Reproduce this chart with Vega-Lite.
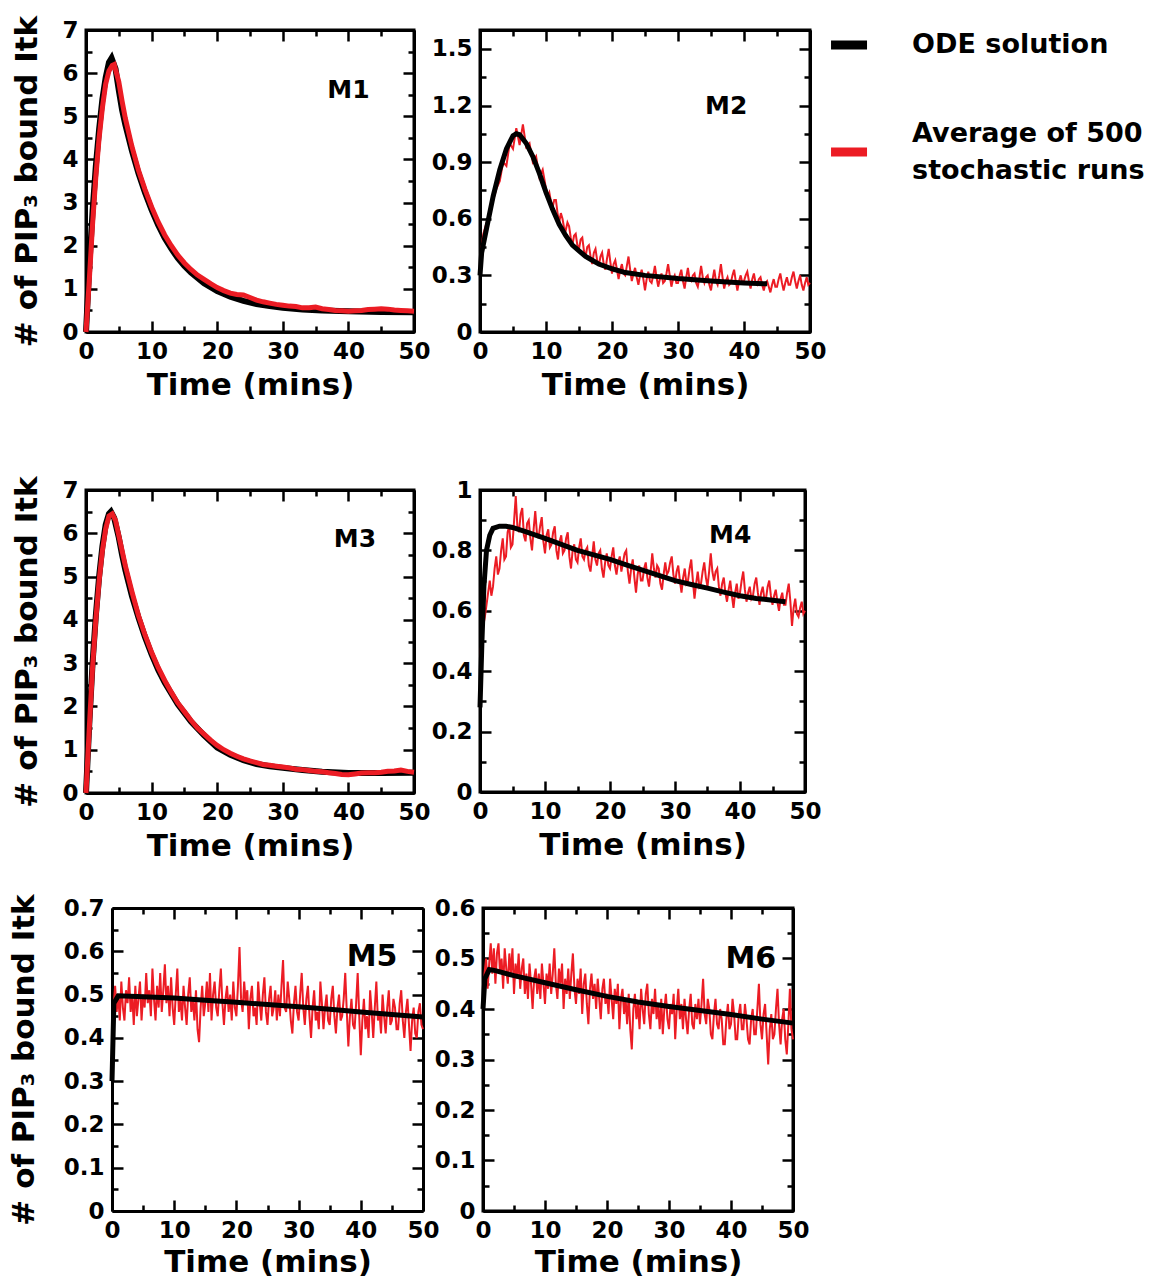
{
  "$schema": "https://vega.github.io/schema/vega-lite/v6.json",
  "padding": {"left": 8, "top": 13, "right": 0, "bottom": 0},
  "config": {
    "view": {"stroke": "black", "strokeWidth": 3},
    "font": "DejaVu Sans",
    "legend": {"disable": true},
    "axis": {"domainColor": "black", "domainWidth": 3, "tickColor": "black", "tickWidth": 2.5, "labelFont": "DejaVu Sans", "labelFontWeight": "bold", "labelFontSize": 23, "labelColor": "black", "titleFont": "DejaVu Sans", "titleFontWeight": "bold", "titleFontSize": 31, "titleColor": "black", "grid": false, "labelFlush": false, "labelOverlap": false, "labelPadding": 19, "format": "~g"}
  },
  "datasets": {
    "m1_ode": [{"t":0,"v":0},{"t":0.5,"v":1.5},{"t":1,"v":2.8},{"t":1.5,"v":3.85},{"t":2,"v":4.7},{"t":2.5,"v":5.4},{"t":3,"v":5.9},{"t":3.5,"v":6.25},{"t":3.9,"v":6.35},{"t":4.5,"v":6.1},{"t":5,"v":5.6},{"t":5.5,"v":5.15},{"t":6,"v":4.8},{"t":7,"v":4.2},{"t":8,"v":3.68},{"t":9,"v":3.23},{"t":10,"v":2.83},{"t":11,"v":2.48},{"t":12,"v":2.18},{"t":13,"v":1.93},{"t":14,"v":1.71},{"t":15,"v":1.53},{"t":16,"v":1.38},{"t":18,"v":1.13},{"t":20,"v":0.95},{"t":22,"v":0.82},{"t":24,"v":0.72},{"t":26,"v":0.65},{"t":28,"v":0.6},{"t":30,"v":0.56},{"t":33,"v":0.52},{"t":36,"v":0.5},{"t":40,"v":0.48},{"t":45,"v":0.465},{"t":50,"v":0.46}],
    "m1_avg": [{"t":0,"v":0},{"t":0.5,"v":1.2},{"t":1,"v":2.5},{"t":1.5,"v":3.6},{"t":2,"v":4.5},{"t":2.5,"v":5.2},{"t":3,"v":5.75},{"t":3.5,"v":6.05},{"t":4,"v":6.18},{"t":4.3,"v":6.2},{"t":5,"v":5.8},{"t":5.5,"v":5.35},{"t":6,"v":4.95},{"t":7,"v":4.3},{"t":8,"v":3.75},{"t":9,"v":3.3},{"t":10,"v":2.9},{"t":11,"v":2.55},{"t":12,"v":2.25},{"t":13,"v":2.0},{"t":14,"v":1.78},{"t":15,"v":1.6},{"t":16,"v":1.45},{"t":17,"v":1.32},{"t":18,"v":1.22},{"t":19,"v":1.12},{"t":20,"v":1.03},{"t":21,"v":0.96},{"t":22,"v":0.9},{"t":23,"v":0.87},{"t":24,"v":0.86},{"t":25,"v":0.8},{"t":26,"v":0.74},{"t":27,"v":0.7},{"t":28,"v":0.67},{"t":29,"v":0.64},{"t":30,"v":0.62},{"t":31,"v":0.6},{"t":32,"v":0.59},{"t":33,"v":0.56},{"t":34,"v":0.56},{"t":35,"v":0.58},{"t":36,"v":0.54},{"t":37,"v":0.52},{"t":38,"v":0.5},{"t":39,"v":0.49},{"t":40,"v":0.48},{"t":41,"v":0.49},{"t":42,"v":0.5},{"t":43,"v":0.52},{"t":44,"v":0.53},{"t":45,"v":0.54},{"t":46,"v":0.53},{"t":47,"v":0.51},{"t":48,"v":0.5},{"t":49,"v":0.49},{"t":50,"v":0.48}],
    "m2_ode": [{"t":0,"v":0.3},{"t":0.25,"v":0.42},{"t":1,"v":0.55},{"t":2,"v":0.72},{"t":3,"v":0.86},{"t":4,"v":0.97},{"t":5,"v":1.04},{"t":5.5,"v":1.05},{"t":6,"v":1.045},{"t":7,"v":1.0},{"t":8,"v":0.93},{"t":9,"v":0.84},{"t":10,"v":0.74},{"t":11,"v":0.65},{"t":12,"v":0.57},{"t":13,"v":0.51},{"t":14,"v":0.46},{"t":15,"v":0.43},{"t":16,"v":0.4},{"t":17,"v":0.38},{"t":18,"v":0.36},{"t":20,"v":0.335},{"t":22,"v":0.315},{"t":25,"v":0.3},{"t":30,"v":0.283},{"t":35,"v":0.27},{"t":40,"v":0.26},{"t":43.5,"v":0.255}],
    "m2_avg": [{"t":0,"v":0.38},{"t":0.5,"v":0.52},{"t":1,"v":0.58},{"t":1.5,"v":0.62},{"t":2,"v":0.7},{"t":2.5,"v":0.76},{"t":3,"v":0.8},{"t":3.5,"v":0.9},{"t":4,"v":0.88},{"t":4.5,"v":1.0},{"t":5,"v":0.97},{"t":5.5,"v":1.08},{"t":6,"v":0.99},{"t":6.5,"v":1.1},{"t":7,"v":0.98},{"t":7.5,"v":1.0},{"t":8,"v":0.9},{"t":8.5,"v":0.93},{"t":9,"v":0.82},{"t":9.5,"v":0.86},
      {"t":10,"v":0.76},{"t":10.25,"v":0.72},{"t":10.5,"v":0.74},{"t":10.75,"v":0.69},{"t":11,"v":0.66},{"t":11.25,"v":0.7},{"t":11.5,"v":0.7},{"t":11.75,"v":0.63},{"t":12,"v":0.58},{"t":12.25,"v":0.63},{"t":12.5,"v":0.6},{"t":12.75,"v":0.55},{"t":13,"v":0.54},{"t":13.25,"v":0.58},{"t":13.5,"v":0.56},{"t":13.75,"v":0.5},{"t":14,"v":0.46},{"t":14.25,"v":0.51},{"t":14.5,"v":0.52},{"t":14.75,"v":0.46},{"t":15,"v":0.44},{"t":15.25,"v":0.49},{"t":15.5,"v":0.5},{"t":15.75,"v":0.43},{"t":16,"v":0.4},{"t":16.25,"v":0.45},{"t":16.5,"v":0.46},{"t":16.75,"v":0.4},{"t":17,"v":0.36},{"t":17.25,"v":0.42},{"t":17.5,"v":0.44},{"t":17.75,"v":0.38},{"t":18,"v":0.35},{"t":18.25,"v":0.4},{"t":18.5,"v":0.42},{"t":18.75,"v":0.36},{"t":19,"v":0.33},{"t":19.25,"v":0.39},{"t":19.5,"v":0.44},{"t":19.75,"v":0.37},{"t":20,"v":0.31},{"t":20.25,"v":0.36},{"t":20.5,"v":0.38},{"t":20.75,"v":0.33},{"t":21,"v":0.28},{"t":21.25,"v":0.33},{"t":21.5,"v":0.36},{"t":21.75,"v":0.31},{"t":22,"v":0.3},{"t":22.25,"v":0.35},{"t":22.5,"v":0.4},{"t":22.75,"v":0.33},{"t":23,"v":0.27},{"t":23.25,"v":0.31},{"t":23.5,"v":0.34},{"t":23.75,"v":0.29},{"t":24,"v":0.25},{"t":24.25,"v":0.3},{"t":24.5,"v":0.33},{"t":24.75,"v":0.28},{"t":25,"v":0.22},{"t":25.25,"v":0.28},{"t":25.5,"v":0.32},{"t":25.75,"v":0.27},{"t":26,"v":0.26},{"t":26.25,"v":0.3},{"t":26.5,"v":0.35},{"t":26.75,"v":0.29},{"t":27,"v":0.24},{"t":27.25,"v":0.28},{"t":27.5,"v":0.31},{"t":27.75,"v":0.26},{"t":28,"v":0.27},{"t":28.25,"v":0.31},{"t":28.5,"v":0.36},{"t":28.75,"v":0.3},{"t":29,"v":0.24},{"t":29.25,"v":0.28},{"t":29.5,"v":0.3},{"t":29.75,"v":0.26},{"t":30,"v":0.26},{"t":30.25,"v":0.3},{"t":30.5,"v":0.33},{"t":30.75,"v":0.27},{"t":31,"v":0.23},{"t":31.25,"v":0.29},{"t":31.5,"v":0.34},{"t":31.75,"v":0.28},{"t":32,"v":0.27},{"t":32.25,"v":0.3},{"t":32.5,"v":0.31},{"t":32.75,"v":0.26},{"t":33,"v":0.24},{"t":33.25,"v":0.29},{"t":33.5,"v":0.35},{"t":33.75,"v":0.29},{"t":34,"v":0.26},{"t":34.25,"v":0.29},{"t":34.5,"v":0.3},{"t":34.75,"v":0.25},{"t":35,"v":0.22},{"t":35.25,"v":0.28},{"t":35.5,"v":0.33},{"t":35.75,"v":0.27},{"t":36,"v":0.25},{"t":36.25,"v":0.3},{"t":36.5,"v":0.36},{"t":36.75,"v":0.29},{"t":37,"v":0.23},{"t":37.25,"v":0.27},{"t":37.5,"v":0.29},{"t":37.75,"v":0.25},{"t":38,"v":0.26},{"t":38.25,"v":0.3},{"t":38.5,"v":0.33},{"t":38.75,"v":0.27},{"t":39,"v":0.22},{"t":39.25,"v":0.27},{"t":39.5,"v":0.3},{"t":39.75,"v":0.26},{"t":40,"v":0.27},{"t":40.25,"v":0.3},{"t":40.5,"v":0.32},{"t":40.75,"v":0.27},{"t":41,"v":0.23},{"t":41.25,"v":0.28},{"t":41.5,"v":0.31},{"t":41.75,"v":0.26},{"t":42,"v":0.25},{"t":42.25,"v":0.28},{"t":42.5,"v":0.29},{"t":42.75,"v":0.25},{"t":43,"v":0.22},{"t":43.25,"v":0.26},{"t":43.5,"v":0.27},{"t":43.75,"v":0.24},{"t":44,"v":0.21},{"t":44.25,"v":0.25},{"t":44.5,"v":0.28},{"t":44.75,"v":0.24},{"t":45,"v":0.24},{"t":45.25,"v":0.28},{"t":45.5,"v":0.31},{"t":45.75,"v":0.26},{"t":46,"v":0.22},{"t":46.25,"v":0.26},{"t":46.5,"v":0.29},{"t":46.75,"v":0.25},{"t":47,"v":0.25},{"t":47.25,"v":0.29},{"t":47.5,"v":0.32},{"t":47.75,"v":0.27},{"t":48,"v":0.23},{"t":48.25,"v":0.27},{"t":48.5,"v":0.3},{"t":48.75,"v":0.25},{"t":49,"v":0.22},{"t":49.25,"v":0.26},{"t":49.5,"v":0.29},{"t":49.75,"v":0.25},{"t":50,"v":0.26}],
    "m3_ode": [{"t":0,"v":0},{"t":0.5,"v":1.6},{"t":1,"v":3.0},{"t":1.5,"v":4.1},{"t":2,"v":5.0},{"t":2.5,"v":5.7},{"t":3,"v":6.2},{"t":3.5,"v":6.45},{"t":3.8,"v":6.5},{"t":4.3,"v":6.35},{"t":5,"v":5.9},{"t":5.5,"v":5.5},{"t":6,"v":5.15},{"t":6.5,"v":4.85},{"t":7,"v":4.55},{"t":8,"v":4.05},{"t":9,"v":3.6},{"t":10,"v":3.2},{"t":11,"v":2.85},{"t":12,"v":2.55},{"t":13,"v":2.3},{"t":14,"v":2.05},{"t":15,"v":1.85},{"t":16,"v":1.65},{"t":18,"v":1.33},{"t":20,"v":1.05},{"t":22,"v":0.88},{"t":24,"v":0.76},{"t":26,"v":0.67},{"t":28,"v":0.62},{"t":30,"v":0.58},{"t":33,"v":0.53},{"t":36,"v":0.49},{"t":40,"v":0.46},{"t":45,"v":0.46},{"t":50,"v":0.47}],
    "m3_avg": [{"t":0,"v":0},{"t":0.5,"v":1.5},{"t":1,"v":2.9},{"t":1.5,"v":4.0},{"t":2,"v":4.9},{"t":2.5,"v":5.6},{"t":3,"v":6.1},{"t":3.5,"v":6.4},{"t":4,"v":6.45},{"t":4.5,"v":6.3},{"t":5,"v":5.95},{"t":5.5,"v":5.6},{"t":6,"v":5.25},{"t":7,"v":4.65},{"t":8,"v":4.1},{"t":9,"v":3.65},{"t":10,"v":3.25},{"t":11,"v":2.9},{"t":12,"v":2.6},{"t":13,"v":2.33},{"t":14,"v":2.08},{"t":15,"v":1.88},{"t":16,"v":1.68},{"t":17,"v":1.5},{"t":18,"v":1.36},{"t":19,"v":1.22},{"t":20,"v":1.1},{"t":21,"v":1.0},{"t":22,"v":0.92},{"t":23,"v":0.85},{"t":24,"v":0.79},{"t":25,"v":0.74},{"t":26,"v":0.7},{"t":27,"v":0.66},{"t":28,"v":0.64},{"t":29,"v":0.62},{"t":30,"v":0.6},{"t":31,"v":0.58},{"t":32,"v":0.55},{"t":33,"v":0.54},{"t":34,"v":0.52},{"t":35,"v":0.5},{"t":36,"v":0.49},{"t":37,"v":0.47},{"t":38,"v":0.45},{"t":39,"v":0.43},{"t":40,"v":0.42},{"t":41,"v":0.44},{"t":42,"v":0.46},{"t":43,"v":0.47},{"t":44,"v":0.47},{"t":45,"v":0.48},{"t":46,"v":0.5},{"t":47,"v":0.51},{"t":48,"v":0.53},{"t":49,"v":0.5},{"t":50,"v":0.48}],
    "m4_ode": [{"t":0,"v":0.28},{"t":0.3,"v":0.5},{"t":0.6,"v":0.68},{"t":1,"v":0.8},{"t":1.5,"v":0.85},{"t":2,"v":0.873},{"t":3,"v":0.88},{"t":4,"v":0.88},{"t":5,"v":0.876},{"t":7,"v":0.862},{"t":10,"v":0.84},{"t":12.5,"v":0.82},{"t":15,"v":0.8},{"t":17.5,"v":0.785},{"t":20,"v":0.77},{"t":22.5,"v":0.752},{"t":25,"v":0.735},{"t":27.5,"v":0.717},{"t":30,"v":0.7},{"t":32.5,"v":0.687},{"t":35,"v":0.675},{"t":37.5,"v":0.662},{"t":40,"v":0.65},{"t":42.5,"v":0.641},{"t":45,"v":0.635},{"t":47,"v":0.63}],
    "m4_avg": [{"t":0,"v":0.45},{"t":0.25,"v":0.5},{"t":0.5,"v":0.55},{"t":0.75,"v":0.58},{"t":1,"v":0.62},{"t":1.25,"v":0.66},{"t":1.5,"v":0.7},{"t":1.75,"v":0.65},{"t":2,"v":0.68},{"t":2.25,"v":0.74},{"t":2.5,"v":0.78},{"t":2.75,"v":0.72},{"t":3,"v":0.74},{"t":3.25,"v":0.8},{"t":3.5,"v":0.84},{"t":3.75,"v":0.77},{"t":4,"v":0.78},{"t":4.25,"v":0.86},{"t":4.5,"v":0.88},{"t":4.75,"v":0.81},{"t":5,"v":0.82},{"t":5.25,"v":0.9},{"t":5.5,"v":0.98},{"t":5.75,"v":0.88},{"t":6,"v":0.86},{"t":6.25,"v":0.92},{"t":6.5,"v":0.94},{"t":6.75,"v":0.85},{"t":7,"v":0.83},{"t":7.25,"v":0.89},{"t":7.5,"v":0.9},{"t":7.75,"v":0.84},{"t":8,"v":0.8},{"t":8.25,"v":0.87},{"t":8.5,"v":0.93},{"t":8.75,"v":0.86},{"t":9,"v":0.84},{"t":9.25,"v":0.88},{"t":9.5,"v":0.91},{"t":9.75,"v":0.83},{"t":10,"v":0.79},{"t":10.25,"v":0.85},{"t":10.5,"v":0.87},{"t":10.75,"v":0.81},{"t":11,"v":0.82},{"t":11.25,"v":0.86},{"t":11.5,"v":0.88},{"t":11.75,"v":0.8},{"t":12,"v":0.77},{"t":12.25,"v":0.83},{"t":12.5,"v":0.85},{"t":12.75,"v":0.79},{"t":13,"v":0.8},{"t":13.25,"v":0.84},{"t":13.5,"v":0.86},{"t":13.75,"v":0.78},{"t":14,"v":0.74},{"t":14.25,"v":0.8},{"t":14.5,"v":0.82},{"t":14.75,"v":0.77},{"t":15,"v":0.76},{"t":15.25,"v":0.81},{"t":15.5,"v":0.84},{"t":15.75,"v":0.78},{"t":16,"v":0.77},{"t":16.25,"v":0.8},{"t":16.5,"v":0.81},{"t":16.75,"v":0.75},{"t":17,"v":0.73},{"t":17.25,"v":0.78},{"t":17.5,"v":0.83},{"t":17.75,"v":0.77},{"t":18,"v":0.75},{"t":18.25,"v":0.79},{"t":18.5,"v":0.8},{"t":18.75,"v":0.74},{"t":19,"v":0.71},{"t":19.25,"v":0.76},{"t":19.5,"v":0.79},{"t":19.75,"v":0.75},{"t":20,"v":0.74},{"t":20.25,"v":0.78},{"t":20.5,"v":0.81},{"t":20.75,"v":0.75},{"t":21,"v":0.72},{"t":21.25,"v":0.76},{"t":21.5,"v":0.78},{"t":21.75,"v":0.73},{"t":22,"v":0.76},{"t":22.25,"v":0.79},{"t":22.5,"v":0.8},{"t":22.75,"v":0.73},{"t":23,"v":0.69},{"t":23.25,"v":0.74},{"t":23.5,"v":0.77},{"t":23.75,"v":0.71},{"t":24,"v":0.66},{"t":24.25,"v":0.72},{"t":24.5,"v":0.75},{"t":24.75,"v":0.7},{"t":25,"v":0.7},{"t":25.25,"v":0.74},{"t":25.5,"v":0.76},{"t":25.75,"v":0.71},{"t":26,"v":0.68},{"t":26.25,"v":0.73},{"t":26.5,"v":0.79},{"t":26.75,"v":0.74},{"t":27,"v":0.71},{"t":27.25,"v":0.75},{"t":27.5,"v":0.74},{"t":27.75,"v":0.69},{"t":28,"v":0.67},{"t":28.25,"v":0.72},{"t":28.5,"v":0.76},{"t":28.75,"v":0.72},{"t":29,"v":0.73},{"t":29.25,"v":0.76},{"t":29.5,"v":0.78},{"t":29.75,"v":0.72},{"t":30,"v":0.69},{"t":30.25,"v":0.73},{"t":30.5,"v":0.75},{"t":30.75,"v":0.7},{"t":31,"v":0.66},{"t":31.25,"v":0.71},{"t":31.5,"v":0.74},{"t":31.75,"v":0.69},{"t":32,"v":0.7},{"t":32.25,"v":0.74},{"t":32.5,"v":0.77},{"t":32.75,"v":0.7},{"t":33,"v":0.64},{"t":33.25,"v":0.69},{"t":33.5,"v":0.73},{"t":33.75,"v":0.68},{"t":34,"v":0.69},{"t":34.25,"v":0.73},{"t":34.5,"v":0.76},{"t":34.75,"v":0.71},{"t":35,"v":0.68},{"t":35.25,"v":0.73},{"t":35.5,"v":0.79},{"t":35.75,"v":0.73},{"t":36,"v":0.7},{"t":36.25,"v":0.73},{"t":36.5,"v":0.74},{"t":36.75,"v":0.68},{"t":37,"v":0.65},{"t":37.25,"v":0.69},{"t":37.5,"v":0.71},{"t":37.75,"v":0.66},{"t":38,"v":0.63},{"t":38.25,"v":0.67},{"t":38.5,"v":0.7},{"t":38.75,"v":0.65},{"t":39,"v":0.61},{"t":39.25,"v":0.66},{"t":39.5,"v":0.69},{"t":39.75,"v":0.64},{"t":40,"v":0.66},{"t":40.25,"v":0.7},{"t":40.5,"v":0.73},{"t":40.75,"v":0.67},{"t":41,"v":0.63},{"t":41.25,"v":0.66},{"t":41.5,"v":0.68},{"t":41.75,"v":0.64},{"t":42,"v":0.65},{"t":42.25,"v":0.69},{"t":42.5,"v":0.71},{"t":42.75,"v":0.66},{"t":43,"v":0.62},{"t":43.25,"v":0.66},{"t":43.5,"v":0.68},{"t":43.75,"v":0.64},{"t":44,"v":0.64},{"t":44.25,"v":0.68},{"t":44.5,"v":0.7},{"t":44.75,"v":0.65},{"t":45,"v":0.62},{"t":45.25,"v":0.65},{"t":45.5,"v":0.67},{"t":45.75,"v":0.63},{"t":46,"v":0.6},{"t":46.25,"v":0.64},{"t":46.5,"v":0.66},{"t":46.75,"v":0.62},{"t":47,"v":0.62},{"t":47.25,"v":0.66},{"t":47.5,"v":0.69},{"t":47.75,"v":0.63},{"t":48,"v":0.55},{"t":48.25,"v":0.61},{"t":48.5,"v":0.64},{"t":48.75,"v":0.59},{"t":49,"v":0.58},{"t":49.25,"v":0.61},{"t":49.5,"v":0.63},{"t":49.75,"v":0.59},{"t":50,"v":0.6}],
    "m5_ode": [{"t":0,"v":0.3},{"t":0.3,"v":0.48},{"t":1,"v":0.497},{"t":5,"v":0.495},{"t":10,"v":0.492},{"t":15,"v":0.487},{"t":20,"v":0.482},{"t":25,"v":0.477},{"t":30,"v":0.472},{"t":35,"v":0.466},{"t":40,"v":0.46},{"t":45,"v":0.454},{"t":50,"v":0.448}],
    "m5_avg": [{"t":0,"v":0.4},{"t":0.25,"v":0.47},{"t":0.5,"v":0.52},{"t":0.75,"v":0.46},{"t":1,"v":0.5},{"t":1.25,"v":0.44},{"t":1.5,"v":0.53},{"t":1.75,"v":0.47},{"t":2,"v":0.44},{"t":2.25,"v":0.51},{"t":2.5,"v":0.48},{"t":2.75,"v":0.54},{"t":3,"v":0.46},{"t":3.25,"v":0.5},{"t":3.5,"v":0.43},{"t":3.75,"v":0.52},{"t":4,"v":0.45},{"t":4.25,"v":0.49},{"t":4.5,"v":0.53},{"t":4.75,"v":0.44},{"t":5,"v":0.5},{"t":5.25,"v":0.47},{"t":5.5,"v":0.55},{"t":5.75,"v":0.48},{"t":6,"v":0.51},{"t":6.25,"v":0.45},{"t":6.5,"v":0.56},{"t":6.75,"v":0.49},{"t":7,"v":0.44},{"t":7.25,"v":0.52},{"t":7.5,"v":0.47},{"t":7.75,"v":0.55},{"t":8,"v":0.46},{"t":8.25,"v":0.51},{"t":8.5,"v":0.57},{"t":8.75,"v":0.48},{"t":9,"v":0.52},{"t":9.25,"v":0.45},{"t":9.5,"v":0.54},{"t":9.75,"v":0.47},{"t":10,"v":0.43},{"t":10.25,"v":0.5},{"t":10.5,"v":0.56},{"t":10.75,"v":0.46},{"t":11,"v":0.49},{"t":11.25,"v":0.44},{"t":11.5,"v":0.52},{"t":11.75,"v":0.47},{"t":12,"v":0.43},{"t":12.25,"v":0.5},{"t":12.5,"v":0.54},{"t":12.75,"v":0.46},{"t":13,"v":0.49},{"t":13.25,"v":0.44},{"t":13.5,"v":0.51},{"t":13.75,"v":0.42},{"t":14,"v":0.39},{"t":14.25,"v":0.47},{"t":14.5,"v":0.52},{"t":14.75,"v":0.45},{"t":15,"v":0.48},{"t":15.25,"v":0.53},{"t":15.5,"v":0.46},{"t":15.75,"v":0.55},{"t":16,"v":0.44},{"t":16.25,"v":0.5},{"t":16.5,"v":0.53},{"t":16.75,"v":0.47},{"t":17,"v":0.45},{"t":17.25,"v":0.51},{"t":17.5,"v":0.56},{"t":17.75,"v":0.48},{"t":18,"v":0.43},{"t":18.25,"v":0.49},{"t":18.5,"v":0.52},{"t":18.75,"v":0.46},{"t":19,"v":0.5},{"t":19.25,"v":0.44},{"t":19.5,"v":0.53},{"t":19.75,"v":0.47},{"t":20,"v":0.45},{"t":20.25,"v":0.52},{"t":20.5,"v":0.61},{"t":20.75,"v":0.49},{"t":21,"v":0.46},{"t":21.25,"v":0.53},{"t":21.5,"v":0.48},{"t":21.75,"v":0.51},{"t":22,"v":0.42},{"t":22.25,"v":0.49},{"t":22.5,"v":0.52},{"t":22.75,"v":0.45},{"t":23,"v":0.47},{"t":23.25,"v":0.43},{"t":23.5,"v":0.53},{"t":23.75,"v":0.48},{"t":24,"v":0.44},{"t":24.25,"v":0.5},{"t":24.5,"v":0.54},{"t":24.75,"v":0.46},{"t":25,"v":0.43},{"t":25.25,"v":0.49},{"t":25.5,"v":0.52},{"t":25.75,"v":0.45},{"t":26,"v":0.47},{"t":26.25,"v":0.51},{"t":26.5,"v":0.44},{"t":26.75,"v":0.5},{"t":27,"v":0.45},{"t":27.25,"v":0.52},{"t":27.5,"v":0.58},{"t":27.75,"v":0.47},{"t":28,"v":0.46},{"t":28.25,"v":0.53},{"t":28.5,"v":0.49},{"t":28.75,"v":0.44},{"t":29,"v":0.41},{"t":29.25,"v":0.48},{"t":29.5,"v":0.52},{"t":29.75,"v":0.46},{"t":30,"v":0.44},{"t":30.25,"v":0.5},{"t":30.5,"v":0.55},{"t":30.75,"v":0.47},{"t":31,"v":0.43},{"t":31.25,"v":0.49},{"t":31.5,"v":0.52},{"t":31.75,"v":0.45},{"t":32,"v":0.4},{"t":32.25,"v":0.47},{"t":32.5,"v":0.51},{"t":32.75,"v":0.44},{"t":33,"v":0.46},{"t":33.25,"v":0.42},{"t":33.5,"v":0.53},{"t":33.75,"v":0.48},{"t":34,"v":0.42},{"t":34.25,"v":0.47},{"t":34.5,"v":0.5},{"t":34.75,"v":0.44},{"t":35,"v":0.43},{"t":35.25,"v":0.49},{"t":35.5,"v":0.52},{"t":35.75,"v":0.45},{"t":36,"v":0.41},{"t":36.25,"v":0.47},{"t":36.5,"v":0.5},{"t":36.75,"v":0.44},{"t":37,"v":0.45},{"t":37.25,"v":0.49},{"t":37.5,"v":0.55},{"t":37.75,"v":0.46},{"t":38,"v":0.38},{"t":38.25,"v":0.45},{"t":38.5,"v":0.49},{"t":38.75,"v":0.43},{"t":39,"v":0.42},{"t":39.25,"v":0.48},{"t":39.5,"v":0.55},{"t":39.75,"v":0.45},{"t":40,"v":0.36},{"t":40.25,"v":0.44},{"t":40.5,"v":0.49},{"t":40.75,"v":0.42},{"t":41,"v":0.45},{"t":41.25,"v":0.4},{"t":41.5,"v":0.51},{"t":41.75,"v":0.46},{"t":42,"v":0.4},{"t":42.25,"v":0.47},{"t":42.5,"v":0.53},{"t":42.75,"v":0.44},{"t":43,"v":0.46},{"t":43.25,"v":0.41},{"t":43.5,"v":0.5},{"t":43.75,"v":0.45},{"t":44,"v":0.41},{"t":44.25,"v":0.47},{"t":44.5,"v":0.51},{"t":44.75,"v":0.43},{"t":45,"v":0.44},{"t":45.25,"v":0.49},{"t":45.5,"v":0.47},{"t":45.75,"v":0.42},{"t":46,"v":0.42},{"t":46.25,"v":0.48},{"t":46.5,"v":0.51},{"t":46.75,"v":0.44},{"t":47,"v":0.4},{"t":47.25,"v":0.46},{"t":47.5,"v":0.49},{"t":47.75,"v":0.43},{"t":48,"v":0.37},{"t":48.25,"v":0.44},{"t":48.5,"v":0.47},{"t":48.75,"v":0.41},{"t":49,"v":0.4},{"t":49.25,"v":0.46},{"t":49.5,"v":0.48},{"t":49.75,"v":0.43},{"t":50,"v":0.42}],
    "m6_ode": [{"t":0,"v":0.4},{"t":0.3,"v":0.46},{"t":1,"v":0.478},{"t":2,"v":0.476},{"t":5,"v":0.466},{"t":10,"v":0.452},{"t":15,"v":0.438},{"t":20,"v":0.425},{"t":25,"v":0.414},{"t":30,"v":0.405},{"t":35,"v":0.397},{"t":40,"v":0.389},{"t":45,"v":0.38},{"t":50,"v":0.372}],
    "m6_avg": [{"t":0,"v":0.4},{"t":0.25,"v":0.47},{"t":0.5,"v":0.5},{"t":0.75,"v":0.44},{"t":1,"v":0.49},{"t":1.25,"v":0.53},{"t":1.5,"v":0.47},{"t":1.75,"v":0.52},{"t":2,"v":0.45},{"t":2.25,"v":0.51},{"t":2.5,"v":0.53},{"t":2.75,"v":0.47},{"t":3,"v":0.5},{"t":3.25,"v":0.44},{"t":3.5,"v":0.52},{"t":3.75,"v":0.48},{"t":4,"v":0.45},{"t":4.25,"v":0.51},{"t":4.5,"v":0.47},{"t":4.75,"v":0.52},{"t":5,"v":0.43},{"t":5.25,"v":0.49},{"t":5.5,"v":0.46},{"t":5.75,"v":0.51},{"t":6,"v":0.44},{"t":6.25,"v":0.48},{"t":6.5,"v":0.5},{"t":6.75,"v":0.43},{"t":7,"v":0.47},{"t":7.25,"v":0.42},{"t":7.5,"v":0.49},{"t":7.75,"v":0.45},{"t":8,"v":0.4},{"t":8.25,"v":0.46},{"t":8.5,"v":0.48},{"t":8.75,"v":0.43},{"t":9,"v":0.47},{"t":9.25,"v":0.42},{"t":9.5,"v":0.49},{"t":9.75,"v":0.45},{"t":10,"v":0.41},{"t":10.25,"v":0.47},{"t":10.5,"v":0.44},{"t":10.75,"v":0.49},{"t":11,"v":0.43},{"t":11.25,"v":0.47},{"t":11.5,"v":0.52},{"t":11.75,"v":0.45},{"t":12,"v":0.42},{"t":12.25,"v":0.48},{"t":12.5,"v":0.45},{"t":12.75,"v":0.49},{"t":13,"v":0.4},{"t":13.25,"v":0.46},{"t":13.5,"v":0.43},{"t":13.75,"v":0.48},{"t":14,"v":0.42},{"t":14.25,"v":0.47},{"t":14.5,"v":0.51},{"t":14.75,"v":0.44},{"t":15,"v":0.41},{"t":15.25,"v":0.46},{"t":15.5,"v":0.43},{"t":15.75,"v":0.48},{"t":16,"v":0.39},{"t":16.25,"v":0.45},{"t":16.5,"v":0.47},{"t":16.75,"v":0.41},{"t":17,"v":0.37},{"t":17.25,"v":0.44},{"t":17.5,"v":0.47},{"t":17.75,"v":0.42},{"t":18,"v":0.45},{"t":18.25,"v":0.4},{"t":18.5,"v":0.46},{"t":18.75,"v":0.42},{"t":19,"v":0.38},{"t":19.25,"v":0.44},{"t":19.5,"v":0.46},{"t":19.75,"v":0.41},{"t":20,"v":0.43},{"t":20.25,"v":0.39},{"t":20.5,"v":0.46},{"t":20.75,"v":0.42},{"t":21,"v":0.38},{"t":21.25,"v":0.44},{"t":21.5,"v":0.41},{"t":21.75,"v":0.45},{"t":22,"v":0.36},{"t":22.25,"v":0.42},{"t":22.5,"v":0.44},{"t":22.75,"v":0.39},{"t":23,"v":0.42},{"t":23.25,"v":0.37},{"t":23.5,"v":0.43},{"t":23.75,"v":0.36},{"t":24,"v":0.32},{"t":24.25,"v":0.4},{"t":24.5,"v":0.43},{"t":24.75,"v":0.38},{"t":25,"v":0.41},{"t":25.25,"v":0.36},{"t":25.5,"v":0.44},{"t":25.75,"v":0.4},{"t":26,"v":0.37},{"t":26.25,"v":0.43},{"t":26.5,"v":0.45},{"t":26.75,"v":0.39},{"t":27,"v":0.36},{"t":27.25,"v":0.42},{"t":27.5,"v":0.39},{"t":27.75,"v":0.44},{"t":28,"v":0.38},{"t":28.25,"v":0.41},{"t":28.5,"v":0.36},{"t":28.75,"v":0.42},{"t":29,"v":0.35},{"t":29.25,"v":0.4},{"t":29.5,"v":0.43},{"t":29.75,"v":0.38},{"t":30,"v":0.36},{"t":30.25,"v":0.41},{"t":30.5,"v":0.39},{"t":30.75,"v":0.43},{"t":31,"v":0.34},{"t":31.25,"v":0.4},{"t":31.5,"v":0.44},{"t":31.75,"v":0.38},{"t":32,"v":0.41},{"t":32.25,"v":0.36},{"t":32.5,"v":0.42},{"t":32.75,"v":0.38},{"t":33,"v":0.35},{"t":33.25,"v":0.4},{"t":33.5,"v":0.43},{"t":33.75,"v":0.37},{"t":34,"v":0.36},{"t":34.25,"v":0.41},{"t":34.5,"v":0.38},{"t":34.75,"v":0.42},{"t":35,"v":0.37},{"t":35.25,"v":0.41},{"t":35.5,"v":0.46},{"t":35.75,"v":0.39},{"t":36,"v":0.37},{"t":36.25,"v":0.42},{"t":36.5,"v":0.4},{"t":36.75,"v":0.35},{"t":37,"v":0.34},{"t":37.25,"v":0.39},{"t":37.5,"v":0.42},{"t":37.75,"v":0.37},{"t":38,"v":0.36},{"t":38.25,"v":0.4},{"t":38.5,"v":0.38},{"t":38.75,"v":0.33},{"t":39,"v":0.33},{"t":39.25,"v":0.38},{"t":39.5,"v":0.41},{"t":39.75,"v":0.36},{"t":40,"v":0.37},{"t":40.25,"v":0.42},{"t":40.5,"v":0.39},{"t":40.75,"v":0.34},{"t":41,"v":0.34},{"t":41.25,"v":0.39},{"t":41.5,"v":0.41},{"t":41.75,"v":0.36},{"t":42,"v":0.36},{"t":42.25,"v":0.41},{"t":42.5,"v":0.38},{"t":42.75,"v":0.34},{"t":43,"v":0.33},{"t":43.25,"v":0.38},{"t":43.5,"v":0.4},{"t":43.75,"v":0.35},{"t":44,"v":0.35},{"t":44.25,"v":0.4},{"t":44.5,"v":0.45},{"t":44.75,"v":0.37},{"t":45,"v":0.34},{"t":45.25,"v":0.39},{"t":45.5,"v":0.41},{"t":45.75,"v":0.35},{"t":46,"v":0.29},{"t":46.25,"v":0.36},{"t":46.5,"v":0.39},{"t":46.75,"v":0.34},{"t":47,"v":0.35},{"t":47.25,"v":0.4},{"t":47.5,"v":0.44},{"t":47.75,"v":0.37},{"t":48,"v":0.33},{"t":48.25,"v":0.38},{"t":48.5,"v":0.4},{"t":48.75,"v":0.34},{"t":49,"v":0.31},{"t":49.25,"v":0.37},{"t":49.5,"v":0.44},{"t":49.75,"v":0.36},{"t":50,"v":0.34}],
    "legend": [{"k":"ODE","label":"ODE solution"},{"k":"Avg","label":["Average of 500","stochastic runs"]}]
  },
  "columns": 1,
  "spacing": 30,
  "align": "none",
  "concat": [
    {
      "columns": 1,
      "spacing": 72,
      "align": "none",
      "concat": [
        {
          "spacing": -3,
          "hconcat": [
            {
              "width": 328, "height": 302,
              "resolve": {"axis": {"x": "independent", "y": "independent"}},
              "layer": [
                {"data": {"name": "m1_ode"}, "mark": {"type": "line", "strokeWidth": 6},
                 "encoding": {
                   "x": {"field": "t", "type": "quantitative", "scale": {"domain": [0, 50]}, "axis": {"orient": "bottom", "title": "Time (mins)", "titlePadding": 2, "values": [0,5,10,15,20,25,30,35,40,45,50], "tickSize": {"condition": {"test": "datum.value % 10 == 0", "value": -11}, "value": -6}, "labelExpr": "datum.value % 10 == 0 ? datum.label : ''"}},
                   "y": {"field": "v", "type": "quantitative", "scale": {"domain": [0, 7]}, "axis": {"orient": "left", "title": "# of PIP₃ bound Itk", "titlePadding": 18, "values": [0,0.5,1,1.5,2,2.5,3,3.5,4,4.5,5,5.5,6,6.5,7], "tickSize": {"condition": {"test": "datum.value % 1 == 0", "value": -11}, "value": -6}, "labelExpr": "datum.value % 1 == 0 ? datum.label : ''"}},
                   "color": {"datum": "ODE", "scale": {"domain": ["ODE", "Avg"], "range": ["#000000", "#ec1c24"]}}
                 }},
                {"data": {"name": "m1_avg"}, "mark": {"type": "line", "strokeWidth": 5},
                 "encoding": {
                   "x": {"field": "t", "type": "quantitative", "scale": {"domain": [0, 50]}, "axis": {"orient": "top", "title": null, "labels": false, "values": [0,5,10,15,20,25,30,35,40,45,50], "tickSize": {"condition": {"test": "datum.value % 10 == 0", "value": -11}, "value": -6}}},
                   "y": {"field": "v", "type": "quantitative", "scale": {"domain": [0, 7]}, "axis": {"orient": "right", "title": null, "labels": false, "values": [0,0.5,1,1.5,2,2.5,3,3.5,4,4.5,5,5.5,6,6.5,7], "tickSize": {"condition": {"test": "datum.value % 1 == 0", "value": -11}, "value": -6}}},
                   "color": {"datum": "Avg"}
                 }},
                {"data": {"values": [{}]}, "mark": {"type": "text", "fontSize": 25, "fontWeight": "bold", "color": "black", "font": "DejaVu Sans"},
                 "encoding": {"x": {"datum": 40, "type": "quantitative", "axis": null}, "y": {"datum": 5.6, "type": "quantitative", "axis": null}, "text": {"value": "M1"}}}
              ]
            },
            {
              "width": 330, "height": 302,
              "resolve": {"axis": {"x": "independent", "y": "independent"}},
              "layer": [
                {"data": {"name": "m2_avg"}, "mark": {"type": "line", "strokeWidth": 2},
                 "encoding": {
                   "x": {"field": "t", "type": "quantitative", "scale": {"domain": [0, 50]}, "axis": {"orient": "bottom", "title": "Time (mins)", "titlePadding": 2, "values": [0,5,10,15,20,25,30,35,40,45,50], "tickSize": {"condition": {"test": "datum.value % 10 == 0", "value": -11}, "value": -6}, "labelExpr": "datum.value % 10 == 0 ? datum.label : ''"}},
                   "y": {"field": "v", "type": "quantitative", "scale": {"domain": [0, 1.5]}, "axis": {"orient": "left", "title": null, "values": [0,0.15,0.3,0.45,0.6,0.75,0.9,1.05,1.2,1.35,1.5], "tickSize": {"condition": {"test": "abs(datum.value/0.3 - round(datum.value/0.3)) < 0.01", "value": -11}, "value": -6}, "labelExpr": "abs(datum.value/0.3 - round(datum.value/0.3)) < 0.01 ? datum.label : ''"}},
                   "color": {"datum": "Avg", "scale": {"domain": ["ODE", "Avg"], "range": ["#000000", "#ec1c24"]}}
                 }},
                {"data": {"name": "m2_ode"}, "mark": {"type": "line", "strokeWidth": 5},
                 "encoding": {
                   "x": {"field": "t", "type": "quantitative", "scale": {"domain": [0, 50]}, "axis": {"orient": "top", "title": null, "labels": false, "values": [0,5,10,15,20,25,30,35,40,45,50], "tickSize": {"condition": {"test": "datum.value % 10 == 0", "value": -11}, "value": -6}}},
                   "y": {"field": "v", "type": "quantitative", "scale": {"domain": [0, 1.5]}, "axis": {"orient": "right", "title": null, "labels": false, "values": [0,0.15,0.3,0.45,0.6,0.75,0.9,1.05,1.2,1.35,1.5], "tickSize": {"condition": {"test": "abs(datum.value/0.3 - round(datum.value/0.3)) < 0.01", "value": -11}, "value": -6}}},
                   "color": {"datum": "ODE"}
                 }},
                {"data": {"values": [{}]}, "mark": {"type": "text", "fontSize": 25, "fontWeight": "bold", "color": "black", "font": "DejaVu Sans"},
                 "encoding": {"x": {"datum": 37.3, "type": "quantitative", "axis": null}, "y": {"datum": 1.2, "type": "quantitative", "axis": null}, "text": {"value": "M2"}}}
              ]
            },
            {
              "width": 320, "height": 302,
              "view": {"stroke": null},
              "data": {"name": "legend"},
              "layer": [
                {"mark": {"type": "tick", "orient": "horizontal", "thickness": 9, "size": 36, "opacity": 1},
                 "encoding": {
                   "x": {"datum": 23, "type": "quantitative", "scale": {"domain": [0, 320], "range": [0, 320]}, "axis": null},
                   "y": {"field": "k", "type": "nominal", "scale": {"type": "point", "domain": ["ODE", "Avg"], "range": [15, 122], "padding": 0}, "axis": null},
                   "color": {"field": "k", "type": "nominal", "scale": {"domain": ["ODE", "Avg"], "range": ["#000000", "#ec1c24"]}, "legend": null}
                 }},
                {"transform": [{"filter": "datum.k == 'ODE'"}],
                 "mark": {"type": "text", "align": "left", "baseline": "middle", "fontSize": 27, "fontWeight": "bold", "font": "DejaVu Sans", "color": "black"},
                 "encoding": {
                   "x": {"datum": 92, "type": "quantitative"},
                   "y": {"field": "k", "type": "nominal"},
                   "text": {"field": "label"}
                 }},
                {"transform": [{"filter": "datum.k == 'Avg'"}],
                 "mark": {"type": "text", "align": "left", "baseline": "middle", "fontSize": 27, "fontWeight": "bold", "font": "DejaVu Sans", "color": "black", "lineHeight": 37, "dy": -18},
                 "encoding": {
                   "x": {"datum": 92, "type": "quantitative"},
                   "y": {"field": "k", "type": "nominal"},
                   "text": {"field": "label"}
                 }}
              ]
            }
          ]
        },
        {
          "spacing": -3,
          "hconcat": [
            {
              "width": 328, "height": 303,
              "resolve": {"axis": {"x": "independent", "y": "independent"}},
              "layer": [
                {"data": {"name": "m3_ode"}, "mark": {"type": "line", "strokeWidth": 6},
                 "encoding": {
                   "x": {"field": "t", "type": "quantitative", "scale": {"domain": [0, 50]}, "axis": {"orient": "bottom", "title": "Time (mins)", "titlePadding": 2, "values": [0,5,10,15,20,25,30,35,40,45,50], "tickSize": {"condition": {"test": "datum.value % 10 == 0", "value": -11}, "value": -6}, "labelExpr": "datum.value % 10 == 0 ? datum.label : ''"}},
                   "y": {"field": "v", "type": "quantitative", "scale": {"domain": [0, 7]}, "axis": {"orient": "left", "title": "# of PIP₃ bound Itk", "titlePadding": 18, "values": [0,0.5,1,1.5,2,2.5,3,3.5,4,4.5,5,5.5,6,6.5,7], "tickSize": {"condition": {"test": "datum.value % 1 == 0", "value": -11}, "value": -6}, "labelExpr": "datum.value % 1 == 0 ? datum.label : ''"}},
                   "color": {"datum": "ODE", "scale": {"domain": ["ODE", "Avg"], "range": ["#000000", "#ec1c24"]}}
                 }},
                {"data": {"name": "m3_avg"}, "mark": {"type": "line", "strokeWidth": 5},
                 "encoding": {
                   "x": {"field": "t", "type": "quantitative", "scale": {"domain": [0, 50]}, "axis": {"orient": "top", "title": null, "labels": false, "values": [0,5,10,15,20,25,30,35,40,45,50], "tickSize": {"condition": {"test": "datum.value % 10 == 0", "value": -11}, "value": -6}}},
                   "y": {"field": "v", "type": "quantitative", "scale": {"domain": [0, 7]}, "axis": {"orient": "right", "title": null, "labels": false, "values": [0,0.5,1,1.5,2,2.5,3,3.5,4,4.5,5,5.5,6,6.5,7], "tickSize": {"condition": {"test": "datum.value % 1 == 0", "value": -11}, "value": -6}}},
                   "color": {"datum": "Avg"}
                 }},
                {"data": {"values": [{}]}, "mark": {"type": "text", "fontSize": 25, "fontWeight": "bold", "color": "black", "font": "DejaVu Sans"},
                 "encoding": {"x": {"datum": 41, "type": "quantitative", "axis": null}, "y": {"datum": 5.87, "type": "quantitative", "axis": null}, "text": {"value": "M3"}}}
              ]
            },
            {
              "width": 325, "height": 302,
              "resolve": {"axis": {"x": "independent", "y": "independent"}},
              "layer": [
                {"data": {"name": "m4_avg"}, "mark": {"type": "line", "strokeWidth": 2},
                 "encoding": {
                   "x": {"field": "t", "type": "quantitative", "scale": {"domain": [0, 50]}, "axis": {"orient": "bottom", "title": "Time (mins)", "titlePadding": 2, "values": [0,5,10,15,20,25,30,35,40,45,50], "tickSize": {"condition": {"test": "datum.value % 10 == 0", "value": -11}, "value": -6}, "labelExpr": "datum.value % 10 == 0 ? datum.label : ''"}},
                   "y": {"field": "v", "type": "quantitative", "scale": {"domain": [0, 1]}, "axis": {"orient": "left", "title": null, "values": [0,0.1,0.2,0.3,0.4,0.5,0.6,0.7,0.8,0.9,1], "tickSize": {"condition": {"test": "abs(datum.value/0.2 - round(datum.value/0.2)) < 0.01", "value": -11}, "value": -6}, "labelExpr": "abs(datum.value/0.2 - round(datum.value/0.2)) < 0.01 ? datum.label : ''"}},
                   "color": {"datum": "Avg", "scale": {"domain": ["ODE", "Avg"], "range": ["#000000", "#ec1c24"]}}
                 }},
                {"data": {"name": "m4_ode"}, "mark": {"type": "line", "strokeWidth": 5},
                 "encoding": {
                   "x": {"field": "t", "type": "quantitative", "scale": {"domain": [0, 50]}, "axis": {"orient": "top", "title": null, "labels": false, "values": [0,5,10,15,20,25,30,35,40,45,50], "tickSize": {"condition": {"test": "datum.value % 10 == 0", "value": -11}, "value": -6}}},
                   "y": {"field": "v", "type": "quantitative", "scale": {"domain": [0, 1]}, "axis": {"orient": "right", "title": null, "labels": false, "values": [0,0.1,0.2,0.3,0.4,0.5,0.6,0.7,0.8,0.9,1], "tickSize": {"condition": {"test": "abs(datum.value/0.2 - round(datum.value/0.2)) < 0.01", "value": -11}, "value": -6}}},
                   "color": {"datum": "ODE"}
                 }},
                {"data": {"values": [{}]}, "mark": {"type": "text", "fontSize": 25, "fontWeight": "bold", "color": "black", "font": "DejaVu Sans"},
                 "encoding": {"x": {"datum": 38.5, "type": "quantitative", "axis": null}, "y": {"datum": 0.85, "type": "quantitative", "axis": null}, "text": {"value": "M4"}}}
              ]
            }
          ]
        }
      ]
    },
    {
      "spacing": -8,
      "hconcat": [
        {
          "width": 337, "height": 303,
          "view": {"stroke": null},
          "resolve": {"axis": {"x": "independent", "y": "independent"}},
          "layer": [
            {"data": {"name": "m5_avg"}, "mark": {"type": "line", "strokeWidth": 2},
             "encoding": {
               "x": {"field": "t", "type": "quantitative", "scale": {"domain": [0, 50], "range": [26, 337]}, "axis": {"orient": "bottom", "title": "Time (mins)", "titlePadding": 0, "values": [0,5,10,15,20,25,30,35,40,45,50], "tickSize": {"condition": {"test": "datum.value % 10 == 0", "value": -11}, "value": -6}, "labelExpr": "datum.value % 10 == 0 ? datum.label : ''"}},
               "y": {"field": "v", "type": "quantitative", "scale": {"domain": [0, 0.7]}, "axis": {"orient": "left", "offset": -26, "title": "# of PIP₃ bound Itk", "titlePadding": 23, "values": [0,0.05,0.1,0.15,0.2,0.25,0.3,0.35,0.4,0.45,0.5,0.55,0.6,0.65,0.7], "tickSize": {"condition": {"test": "abs(datum.value/0.1 - round(datum.value/0.1)) < 0.01", "value": -11}, "value": -6}, "labelExpr": "abs(datum.value/0.1 - round(datum.value/0.1)) < 0.01 ? datum.label : ''"}},
               "color": {"datum": "Avg", "scale": {"domain": ["ODE", "Avg"], "range": ["#000000", "#ec1c24"]}}
             }},
            {"data": {"name": "m5_ode"}, "mark": {"type": "line", "strokeWidth": 5},
             "encoding": {
               "x": {"field": "t", "type": "quantitative", "scale": {"domain": [0, 50], "range": [26, 337]}, "axis": {"orient": "top", "title": null, "labels": false, "values": [0,5,10,15,20,25,30,35,40,45,50], "tickSize": {"condition": {"test": "datum.value % 10 == 0", "value": -11}, "value": -6}}},
               "y": {"field": "v", "type": "quantitative", "scale": {"domain": [0, 0.7]}, "axis": {"orient": "right", "title": null, "labels": false, "values": [0,0.05,0.1,0.15,0.2,0.25,0.3,0.35,0.4,0.45,0.5,0.55,0.6,0.65,0.7], "tickSize": {"condition": {"test": "abs(datum.value/0.1 - round(datum.value/0.1)) < 0.01", "value": -11}, "value": -6}}},
               "color": {"datum": "ODE"}
             }},
            {"data": {"values": [{}]}, "mark": {"type": "text", "fontSize": 30, "fontWeight": "bold", "color": "black", "font": "DejaVu Sans"},
             "encoding": {"x": {"datum": 41.8, "type": "quantitative", "axis": null}, "y": {"datum": 0.587, "type": "quantitative", "axis": null}, "text": {"value": "M5"}}}
          ]
        },
        {
          "width": 310, "height": 303,
          "resolve": {"axis": {"x": "independent", "y": "independent"}},
          "layer": [
            {"data": {"name": "m6_avg"}, "mark": {"type": "line", "strokeWidth": 2},
             "encoding": {
               "x": {"field": "t", "type": "quantitative", "scale": {"domain": [0, 50]}, "axis": {"orient": "bottom", "title": "Time (mins)", "titlePadding": 0, "values": [0,5,10,15,20,25,30,35,40,45,50], "tickSize": {"condition": {"test": "datum.value % 10 == 0", "value": -11}, "value": -6}, "labelExpr": "datum.value % 10 == 0 ? datum.label : ''"}},
               "y": {"field": "v", "type": "quantitative", "scale": {"domain": [0, 0.6]}, "axis": {"orient": "left", "title": null, "values": [0,0.05,0.1,0.15,0.2,0.25,0.3,0.35,0.4,0.45,0.5,0.55,0.6], "tickSize": {"condition": {"test": "abs(datum.value/0.1 - round(datum.value/0.1)) < 0.01", "value": -11}, "value": -6}, "labelExpr": "abs(datum.value/0.1 - round(datum.value/0.1)) < 0.01 ? datum.label : ''"}},
               "color": {"datum": "Avg", "scale": {"domain": ["ODE", "Avg"], "range": ["#000000", "#ec1c24"]}}
             }},
            {"data": {"name": "m6_ode"}, "mark": {"type": "line", "strokeWidth": 5},
             "encoding": {
               "x": {"field": "t", "type": "quantitative", "scale": {"domain": [0, 50]}, "axis": {"orient": "top", "title": null, "labels": false, "values": [0,5,10,15,20,25,30,35,40,45,50], "tickSize": {"condition": {"test": "datum.value % 10 == 0", "value": -11}, "value": -6}}},
               "y": {"field": "v", "type": "quantitative", "scale": {"domain": [0, 0.6]}, "axis": {"orient": "right", "title": null, "labels": false, "values": [0,0.05,0.1,0.15,0.2,0.25,0.3,0.35,0.4,0.45,0.5,0.55,0.6], "tickSize": {"condition": {"test": "abs(datum.value/0.1 - round(datum.value/0.1)) < 0.01", "value": -11}, "value": -6}}},
               "color": {"datum": "ODE"}
             }},
            {"data": {"values": [{}]}, "mark": {"type": "text", "fontSize": 30, "fontWeight": "bold", "color": "black", "font": "DejaVu Sans"},
             "encoding": {"x": {"datum": 43.2, "type": "quantitative", "axis": null}, "y": {"datum": 0.5, "type": "quantitative", "axis": null}, "text": {"value": "M6"}}}
          ]
        }
      ]
    }
  ]
}
